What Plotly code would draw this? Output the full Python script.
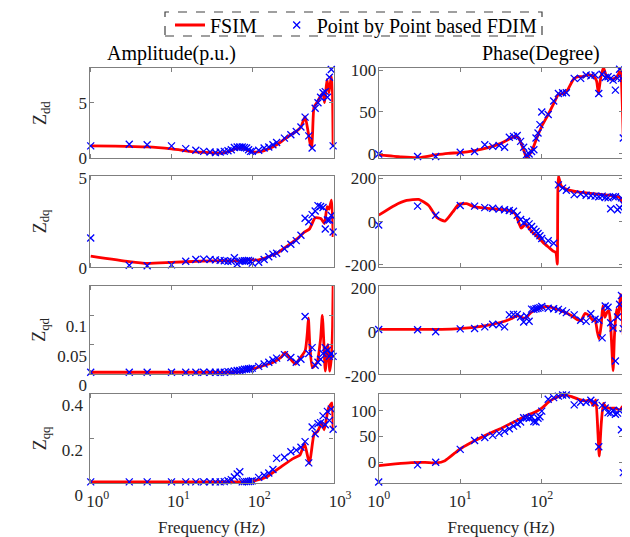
import plotly.graph_objects as go

FONT = "Liberation Serif, Times New Roman, serif"

# ---------------- data ----------------
f_pts = [1, 3, 5, 10, 15, 20, 25, 30, 35, 40,
         45, 50, 55, 60, 65, 70, 75, 80, 85, 90,
         95, 100, 120, 140, 160, 180, 200, 250, 300, 350,
         400, 450, 500, 550, 600, 650, 700, 750, 800, 850,
         900, 950, 1000]

# Zdd amplitude
red_f_dd_amp = [1, 2, 5, 10, 20, 30, 40, 50, 60, 70, 80, 90, 100, 130, 160, 200, 250, 300, 350,
                400, 450, 490, 520, 545, 580, 630, 700, 750, 785, 840, 890, 950, 980, 1000]
red_dd_amp = [1.1, 1.08, 1.0, 0.82, 0.55, 0.48, 0.45, 0.55, 0.8, 0.9, 0.85, 0.65, 0.55, 0.6, 0.85, 1.2, 1.7, 2.1, 2.4,
              2.8, 3.75, 2.4, 1.3, 0.9, 4.6, 5.0, 5.6, 5.9, 5.0, 7.1, 5.9, 7.4, 6.2, 1.1]
pts_dd_amp = [1.1, 1.25, 1.2, 1.1, 0.85, 0.7, 0.6, 0.55, 0.5, 0.55,
              0.6, 0.65, 0.75, 0.95, 1.0, 1.0, 1.0, 0.95, 0.9, 0.75,
              0.6, 0.6, 0.7, 0.9, 1.0, 1.2, 1.4, 1.8, 2.1, 2.4,
              2.8, 3.7, 2.0, 0.9, 4.5, 5.0, 5.5, 5.9, 6.0, 5.5,
              7.3, 8.0, 1.1]

# Zdq amplitude
red_f_dq_amp = [1, 3, 5, 10, 23, 46, 75, 90, 115, 146, 204, 290, 380, 440, 510, 600, 710, 780,
                844, 891, 955, 985, 1000]
red_dq_amp = [0.59, 0.28, 0.18, 0.24, 0.31, 0.33, 0.33, 0.4, 0.37, 0.5, 0.77, 1.25, 1.65, 1.93, 2.1, 2.72, 2.67, 2.4,
              3.35, 3.2, 3.7, 2.8, 1.65]
pts_dq_amp = [1.6, 0.08, 0.05, 0.1, 0.3, 0.4, 0.42, 0.4, 0.38, 0.35,
              0.33, 0.3, 0.3, 0.5, 0.15, 0.3, 0.32, 0.33, 0.33, 0.35,
              0.3, 0.2, 0.25, 0.4, 0.55, 0.7, 0.75, 1.0, 1.25, 1.45,
              1.75, 2.7, 2.5, 2.9, 3.1, 3.4, 3.35, 3.3, 2.1, 2.6,
              2.6, 2.85, 1.93]

# Zqd amplitude
red_f_qd_amp = [1, 10, 30, 50, 73, 115, 182, 229, 256, 287, 340, 381, 452, 480, 495, 515, 554, 635,
                700, 736, 770, 800, 861, 910, 955, 985, 1000]
red_qd_amp = [0.003, 0.003, 0.003, 0.003, 0.004, 0.011, 0.02, 0.029, 0.037, 0.028, 0.017, 0.025, 0.04, 0.07,
              0.095, 0.05, 0.011, 0.02, 0.06, 0.1, 0.05, 0.005, 0.05, 0.005, 0.03, 0.08, 0.15]
pts_qd_amp = [0.003, 0.003, 0.003, 0.003, 0.003, 0.003, 0.003, 0.003, 0.003, 0.003,
              0.003, 0.004, 0.004, 0.005, 0.006, 0.006, 0.007, 0.008, 0.008, 0.009,
              0.009, 0.01, 0.013, 0.017, 0.02, 0.024, 0.027, 0.033, 0.028, 0.02,
              0.025, 0.098, 0.035, 0.045, 0.015, 0.02, 0.025, 0.035, 0.045, 0.04,
              0.03, 0.035, 0.03]

# Zqq amplitude
red_f_qq_amp = [1, 10, 50, 94, 150, 220, 323, 390, 442, 510, 583, 641, 725, 776, 877, 966, 1000]
red_qq_amp = [0.005, 0.005, 0.005, 0.006, 0.027, 0.069, 0.11, 0.125, 0.177, 0.087, 0.22, 0.23, 0.268, 0.238,
              0.335, 0.358, 0.238]
pts_qq_amp = [0.005, 0.005, 0.005, 0.005, 0.005, 0.005, 0.005, 0.005, 0.005, 0.005,
              0.006, 0.01, 0.015, 0.027, 0.04, 0.05, 0.005, 0.006, 0.006, 0.007,
              0.008, 0.01, 0.025, 0.035, 0.045, 0.06, 0.11, 0.115, 0.14, 0.147,
              0.16, 0.185, 0.09, 0.25, 0.22, 0.265, 0.27, 0.3, 0.26, 0.32,
              0.28, 0.33, 0.24]

# Zdd phase
red_f_dd_ph = [1, 1.9, 3.1, 4.9, 7.1, 10, 15, 22, 32, 47, 52, 60, 65, 75, 87, 100, 120, 145, 160, 190, 210,
               245, 280, 320, 370, 430, 470, 495, 525, 570, 620, 720, 820, 890, 920, 950, 1000]
red_dd_ph = [-1.2, -3.6, -4.4, -1.2, 0.8, 1.6, 4, 7.6, 12.9, 20.9, 19, 4.8, -4.4, 2.8, 19, 33, 47, 63, 71, 72, 77,
             89, 92, 92, 94.4, 93, 87, 72, 89, 103, 93, 89, 91, 97, 101, 87, 18]
pts_dd_ph = [0, -3, -3, 2, 3, 11, 9, 10, 8, 20,
             21, 22, 15, 8, -1, 0, 3, 5, 19, 25,
             35, 50, 47, 63, 72, 73, 73, 90, 90, 94,
             93, 94, 72, 95, 91, 92, 90, 88, 76, 90,
             101, 90, 19]

# Zdq phase
red_f_dq_ph = [1, 1.57, 2.2, 3.1, 4.1, 5.2, 6.5, 8.1, 9.6, 12, 15, 24, 37, 47, 56, 63, 75, 88, 105, 124,
               138, 149, 155, 160, 173, 205, 290, 455, 715, 890, 1000]
red_dq_ph = [30, 75, 98, 103, 75, 18, 3, 45, 80, 83, 68, 60, 53, 38, -30, -12, -45, -68, -98, -121,
             -136, -143, -196, 211, 166, 148, 136, 128, 121, 113, 83]
pts_dq_ph = [-15, 72, 30, 75, 72, 65, 62, 58, 55, 52,
             48, 30, 10, -5, 2, -10, -22, -35, -45, -55,
             -65, -78, -88, -100, 170, 155, 145, 125, 128, 122,
             120, 118, 115, 118, 112, 110, 60, 115, 115, 55,
             65, 110, 80]

# Zqd phase
red_f_qd_ph = [1, 5.9, 9.6, 19, 30, 42, 50, 56, 63, 74, 93, 117, 146, 184, 231, 270, 303, 340, 380, 426,
               450, 480, 505, 535, 560, 595, 630, 667, 700, 750, 780, 825, 870, 930, 1000]
red_qd_ph = [4, 4, 7, 19, 34, 52, 67, 59, 55, 81, 99, 108, 99, 84, 67, 49, 44, 77, 67, 44,
             52, -7, -40, 22, 111, 59, 81, 89, 22, -185, -22, 96, 67, 163, -22]
pts_qd_ph = [3, 2, -7, 6, 8, 15, 27, 25, 15, 70,
             72, 72, 60, 37, 65, 41, 96, 95, 98, 100,
             103, 108, 100, 98, 95, 88, 80, 70, 45, 40,
             75, 50, 45, -35, 110, 105, 34, 10, -141, 60,
             118, 158, 7]

# Zqq phase
red_f_qq_ph = [1, 1.6, 2.5, 3.7, 5.1, 6.5, 8.6, 10.4, 15, 22, 32, 47, 68, 83, 100, 126, 160, 193, 233, 280,
               340, 390, 430, 460, 490, 507, 535, 570, 605, 665, 790, 910, 975, 1000]
red_qq_ph = [-6.4, -3.2, -0.6, 0, -1.3, 3.2, 18, 27.6, 41.7, 54.5, 66, 79, 92, 97, 104.5, 118.6, 127, 130, 127, 122,
             118.6, 120.5, 109.6, 120.5, 53, 12, 72, 114, 107.7, 104.5, 104.5, 101, 107.7, -30]
pts_qq_ph = [-38, -5, 0, 25, 42, 48, 52, 56, 60, 65,
             70, 74, 78, 86, 86, 85, 88, 79, 78, 85,
             88, 99, 122, 125, 128, 130, 130, 111, 116, 116,
             120, 115, 30, 110, 105, 96, 95, 100, 93, 95,
             100, 63, -20]

row_labels = ["dd", "dq", "qd", "qq"]
x_tickvals = [1, 10, 100, 1000]
x_ticktext = ["10<sup>0</sup>", "10<sup>1</sup>", "10<sup>2</sup>", "10<sup>3</sup>"]

amp_red = [(red_f_dd_amp, red_dd_amp), (red_f_dq_amp, red_dq_amp), (red_f_qd_amp, red_qd_amp), (red_f_qq_amp, red_qq_amp)]
amp_pts = [pts_dd_amp, pts_dq_amp, pts_qd_amp, pts_qq_amp]
ph_red = [(red_f_dd_ph, red_dd_ph), (red_f_dq_ph, red_dq_ph), (red_f_qd_ph, red_qd_ph), (red_f_qq_ph, red_qq_ph)]
ph_pts = [pts_dd_ph, pts_dq_ph, pts_qd_ph, pts_qq_ph]

amp_ranges = [[0, 8.14], [0, 5.05], [0, 0.1505], [0, 0.4]]
amp_ticks = [([0, 5], ["0", "5"]), ([0, 5], ["0", "5"]), ([0, 0.05, 0.1], ["0", "0.05", "0.1"]), ([0, 0.2, 0.4], ["0", "0.2", "0.4"])]
amp_shift = [0, 1, 11, 12]
amp_standoff = [-2, -2, -2, 2]
ph_ranges = [[-4.8, 102.4], [-208, 211], [-200, 203], [-40, 133]]
ph_ticks = [([0, 50, 100], ["0", "50", "100"]), ([-200, 0, 200], ["-200", "0", "200"]),
            ([-200, 0, 200], ["-200", "0", "200"]), ([0, 50, 100], ["0", "50", "100"])]
ph_shift = [0, 0, 2, 0]

# ---------------- layout geometry (window px; page body adds an 8px offset) ----------------
OFF = 8
W, H = 630 - OFF, 537 - OFF
left_x = (89.5, 333.5)
right_x = (378.7, 623.3)
rows_y = [(68, 158), (176, 266.7), (285.7, 374), (393.5, 483)]

def px2x(p):
    return (p - OFF) / W

def px2y(p):
    return 1 - (p - OFF) / H

fig = go.Figure()
layout = dict(
    template="none",
    width=W, height=H, margin=dict(l=0, r=0, t=0, b=0, autoexpand=False),
    plot_bgcolor="white", paper_bgcolor="white",
    font=dict(family=FONT, size=17, color="#262626"),
    showlegend=True,
    legend=dict(orientation="h", x=px2x(170), xanchor="left", y=px2y(25), yanchor="middle",
                font=dict(family=FONT, size=20, color="black"), bgcolor="rgba(0,0,0,0)",
                borderwidth=0, itemwidth=30, traceorder="normal"),
)

axis_common = dict(showline=True, linecolor="#7f7f7f", linewidth=1.2, mirror="ticks",
                   ticks="inside", ticklen=4, tickcolor="#7f7f7f", tickwidth=1,
                   showgrid=False, zeroline=False, automargin=False,
                   tickfont=dict(family=FONT, size=17, color="#262626"))

ax_i = 0
for r in range(4):
    for c in range(2):
        ax_i += 1
        xname = "xaxis" if ax_i == 1 else f"xaxis{ax_i}"
        yname = "yaxis" if ax_i == 1 else f"yaxis{ax_i}"
        xref = "x" if ax_i == 1 else f"x{ax_i}"
        yref = "y" if ax_i == 1 else f"y{ax_i}"
        xd = left_x if c == 0 else right_x
        yd = rows_y[r]
        xa = dict(axis_common)
        xa.update(type="log", domain=[px2x(xd[0]), px2x(xd[1])], anchor=yref,
                  range=[-0.015, 3.005] if c == 0 else [0, 3],
                  tickvals=x_tickvals, ticktext=x_ticktext, ticklabelstandoff=2,
                  showticklabels=(r == 3), ticklabelshift=7 if c == 0 else 0)
        if r == 3:
            xa["title"] = dict(text="Frequency (Hz)", font=dict(family=FONT, size=17, color="#262626"), standoff=14)
        ya = dict(axis_common)
        if c == 0:
            rng = amp_ranges[r]; tv, tt = amp_ticks[r]; sh = amp_shift[r]; so = amp_standoff[r]
        else:
            rng = ph_ranges[r]; tv, tt = ph_ticks[r]; sh = ph_shift[r]; so = -2
        ya.update(domain=[px2y(yd[1]), px2y(yd[0])], anchor=xref, range=rng,
                  tickvals=tv, ticktext=tt, ticklabelshift=sh, ticklabelstandoff=so)
        layout[xname] = xa
        layout[yname] = ya

        if c == 0:
            rf, rv = amp_red[r]; pv = amp_pts[r]
        else:
            rf, rv = ph_red[r]; pv = ph_pts[r]
        first = (ax_i == 1)
        fig.add_trace(go.Scatter(x=rf, y=rv, mode="lines", name="FSIM\u00a0\u00a0\u00a0",
                                 line=dict(color="#ff0000", width=2.8, shape="spline", smoothing=0.5),
                                 xaxis=xref, yaxis=yref, showlegend=first, legendgroup="fsim"))
        fig.add_trace(go.Scatter(x=f_pts, y=pv, mode="markers", name="Point by Point based FDIM",
                                 marker=dict(symbol="x-thin", size=7, color="#0000ff",
                                             line=dict(color="#0000ff", width=1.3)),
                                 xaxis=xref, yaxis=yref, showlegend=first, legendgroup="fdim",
                                 cliponaxis=False))

annotations = [
    dict(text="Amplitude(p.u.)", x=px2x(172), y=px2y(53), xref="paper", yref="paper",
         xanchor="center", yanchor="middle",
         showarrow=False, font=dict(family=FONT, size=20, color="black")),
    dict(text="Phase(Degree)", x=px2x(541), y=px2y(53), xref="paper", yref="paper",
         xanchor="center", yanchor="middle",
         showarrow=False, font=dict(family=FONT, size=20, color="black")),
]
for r, lab in enumerate(row_labels):
    yc = (rows_y[r][0] + rows_y[r][1]) / 2
    annotations.append(dict(text=f"Z<sub>{lab}</sub>", x=px2x(41), y=px2y(yc), xref="paper", yref="paper",
                            xanchor="center", yanchor="middle",
                            showarrow=False, textangle=-90,
                            font=dict(family=FONT, size=18, color="#262626")))
layout["annotations"] = annotations
layout["shapes"] = [dict(type="rect", xref="paper", yref="paper",
                         x0=px2x(165), x1=px2x(542), y0=px2y(36), y1=px2y(12),
                         line=dict(color="#404040", width=1.2, dash="dash"))]

fig.update_layout(**layout)
fig.write_html("out.html")
